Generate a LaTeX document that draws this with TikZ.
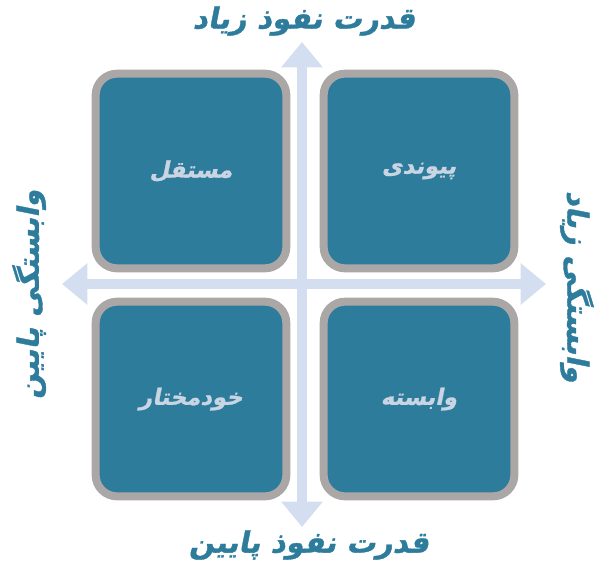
\documentclass[tikz,border=0pt]{standalone}
\usepackage{fontspec}
\usetikzlibrary{arrows.meta,positioning}
\TeXXeTstate=1
\newfontfamily\arabicfont[Script=Arabic,FakeSlant=0.2,FakeBold=1.2]{DejaVu Sans}
\definecolor{quadfill}{HTML}{2E7C9C}
\definecolor{quadedge}{HTML}{ABA7A7}
\definecolor{quadtext}{HTML}{C9D5E2}
\definecolor{axisblue}{HTML}{D3DEF0}
\definecolor{labelteal}{HTML}{2E7C9C}

\begin{document}
\begin{tikzpicture}[x=0.75pt, y=-0.75pt,
    quad/.style={draw=quadedge, line width=6pt, fill=quadfill, rounded corners=16pt,
        minimum width=143pt, minimum height=146pt, text=quadtext,
        font=\arabicfont\bfseries\fontsize{17}{20}\selectfont},
    axislabel/.style={text=labelteal, inner sep=0pt,
        font=\arabicfont\bfseries\fontsize{22}{26}\selectfont},
    axis/.style={draw=axisblue, line width=7.5pt,
        {Triangle[length=19pt,width=30pt]}-{Triangle[length=19pt,width=30pt]}}]
    \useasboundingbox (0,0) rectangle (598,565);
    % axes
    \coordinate (up) at (302,42);
    \coordinate (down) at (302,527);
    \coordinate (west) at (62,284);
    \coordinate (east) at (546,284);
    \draw[axis] (west) -- (east);
    \draw[axis] (down) -- (up);
    % quadrants
    \node[quad] (independent) at (191,171) {\beginR مستقل\endR};
    \node[quad] (linked) at (419,171) {\beginR پیوندی\endR};
    \node[quad] (autonomous) at (191,399) {\beginR خودمختار\endR};
    \node[quad] (dependent) at (419,399) {\beginR وابسته\endR};
    % axis labels
    \node[axislabel] (highpower) at (304,21) {\beginR قدرت نفوذ زیاد\endR};
    \node[axislabel] (lowpower) at (309,545) {\beginR قدرت نفوذ پایین\endR};
    \node[axislabel, rotate=90] (lowdep) at (29,294) {\beginR وابستگی پایین\endR};
    \node[axislabel, rotate=-90] (highdep) at (577,287) {\beginR وابستگی زیاد\endR};
\end{tikzpicture}
\end{document}
